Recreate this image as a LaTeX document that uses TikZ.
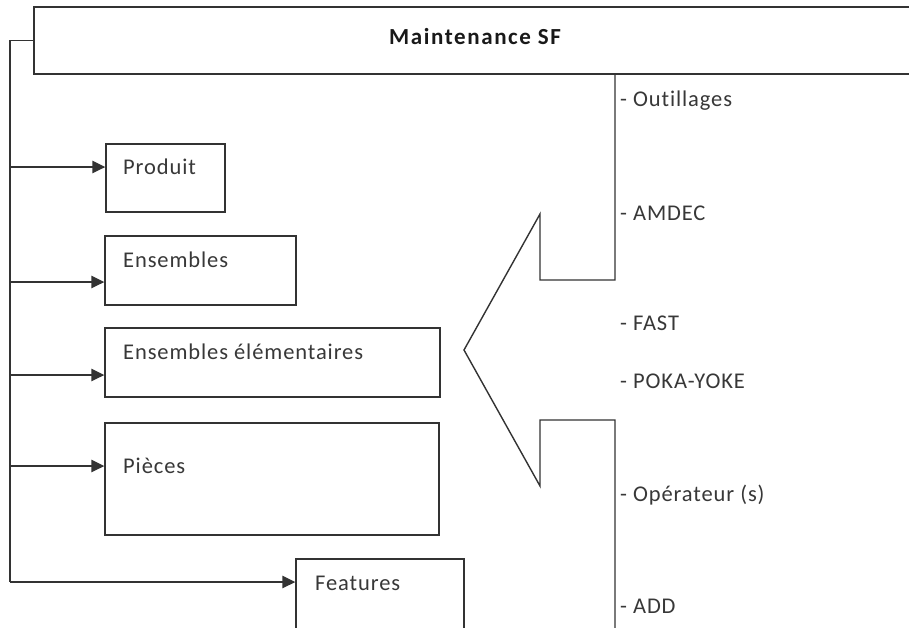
\documentclass[tikz,border=0pt]{standalone}
\usepackage{fontspec}
\setmainfont{Carlito}[LetterSpace=4, Ligatures=NoCommon]
\newfontfamily\titrefont{Carlito}[LetterSpace=7, Ligatures=NoCommon]
\usetikzlibrary{arrows.meta}

\definecolor{gristexte}{HTML}{383838}
\tikzset{
    trait/.style={draw=black!80, line width=1.4pt},
    boite/.style={trait, rectangle, inner sep=0pt},
    etiq/.style={text=gristexte, inner sep=0pt, anchor=base west, font=\fontsize{22.5}{26}\selectfont},
    fleche/.style={trait, -{Triangle[length=13pt,width=12.5pt]}}
}

\begin{document}
\begin{tikzpicture}[x=1pt, y=-1pt]
    \useasboundingbox (0,0) rectangle (909,627);
    \fill[white] (0,0) rectangle (909,627);
    \clip (0,0) rectangle (909,627);

    % en-tete
    \node[boite, minimum width=878pt, minimum height=67pt] (titre) at (473,40.5) {};
    \node[inner sep=0pt, text=black!90, font=\titrefont\bfseries\fontsize{23}{27}\selectfont] (titre-t) at (475,37) {Maintenance SF};

    % boites
    \node[boite, minimum width=119pt, minimum height=68pt] (produit) at (165.5,178) {};
    \node[boite, minimum width=191pt, minimum height=69pt] (ensembles) at (200.5,270.5) {};
    \node[boite, minimum width=335pt, minimum height=69pt] (elementaires) at (272.5,362.5) {};
    \node[boite, minimum width=334pt, minimum height=112pt] (pieces) at (272,479) {};
    \node[boite, minimum width=168pt, minimum height=100pt] (features) at (380,609) {};

    \node[etiq] (produit-t) at (123,174) {Produit};
    \node[etiq] (ensembles-t) at (123,267) {Ensembles};
    \node[etiq] (elementaires-t) at (123,359) {Ensembles élémentaires};
    \node[etiq] (pieces-t) at (123,473) {Pièces};
    \node[etiq] (features-t) at (315,590) {Features};

    % liaisons
    \coordinate (tronc) at (10,582);
    \draw[trait] (titre.west) -| (tronc);
    \foreach \b/\y in {produit/167, ensembles/282, elementaires/375, pieces/466}
        \draw[fleche] (10,\y) -- (\b.west |- 0,\y);
    \draw[fleche] (tronc) -- (tronc -| features.west);

    % grande fleche
    \draw[trait] (615,74) -- (615,280) -- (540,280) -- (540,214) -- (464,350)
        -- (540,486) -- (540,420) -- (615,420) -- (615,640);

    % outils
    \foreach \t/\y [count=\i] in {Outillages/106, AMDEC/220, FAST/330, POKA-YOKE/388, Opérateur (s)/501, ADD/613}
        \node[etiq] (outil\i) at (620,\y) {- \t};
\end{tikzpicture}
\end{document}
